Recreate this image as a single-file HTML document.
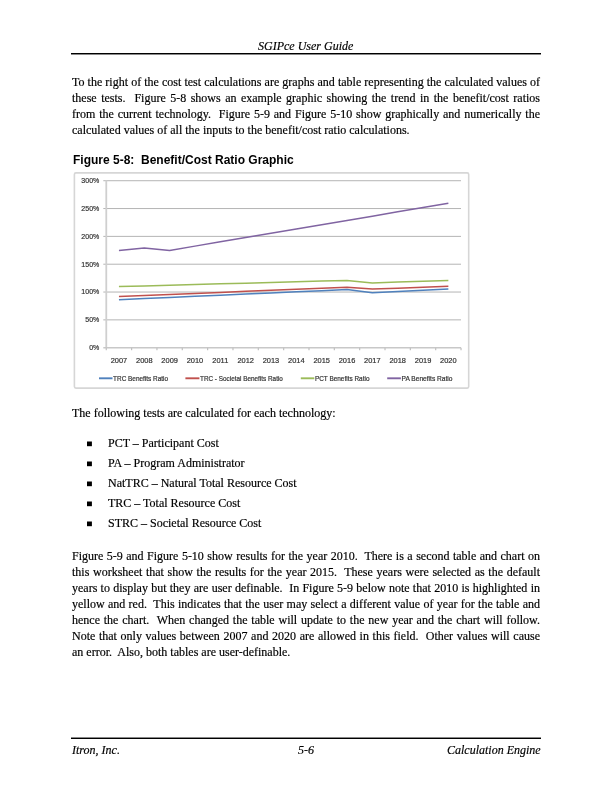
<!DOCTYPE html>
<html><head><meta charset="utf-8">
<style>
html,body{margin:0;padding:0;background:#fff;}
body{width:612px;height:792px;position:relative;overflow:hidden;font-family:"Liberation Serif",serif;color:#000;-webkit-text-stroke:0.18px #000;}
.a{position:absolute;white-space:pre;will-change:transform;}
.hr{position:absolute;left:70.5px;width:470.5px;height:1px;background:#000;}
.ln{position:absolute;will-change:transform;left:72px;width:468px;font-size:12px;line-height:16px;height:16px;white-space:nowrap;text-align:justify;text-align-last:justify;}
.ln.l{text-align:left;text-align-last:left;}
.it{font-style:italic;font-size:12px;line-height:16px;}
.bul{position:absolute;left:87.2px;width:4.3px;height:4.5px;background:#000;}
.bt{position:absolute;will-change:transform;left:108px;font-size:12px;line-height:16px;white-space:pre;}
</style></head><body>
<!-- header -->
<div class="a it" style="left:258px;top:37.7px;">SGIPce User Guide</div>
<div class="hr" style="top:53px;box-shadow:0 1px 0 #888;"></div>

<!-- paragraph 1 (baselines 86,102,118,134) -->
<div class="ln" style="top:74px;">To the right of the cost test calculations are graphs and table representing the calculated values of</div>
<div class="ln" style="top:90px;">these tests.&nbsp; Figure 5-8 shows an example graphic showing the trend in the benefit/cost ratios</div>
<div class="ln" style="top:106px;">from the current technology.&nbsp; Figure 5-9 and Figure 5-10 show graphically and numerically the</div>
<div class="ln l" style="top:122px;">calculated values of all the inputs to the benefit/cost ratio calculations.</div>

<!-- figure heading -->
<div class="a" style="left:72.5px;top:152px;font-family:'Liberation Sans',sans-serif;font-weight:bold;font-size:12px;line-height:16px;-webkit-text-stroke:0;">Figure 5-8:&nbsp; Benefit/Cost Ratio Graphic</div>

<!-- chart -->
<svg class="a" style="left:0;top:0;font-family:'Liberation Sans',sans-serif;" width="612" height="792" viewBox="0 0 612 792">
<style>.cl{fill:#333;stroke:#333;stroke-width:0.2px;}</style>
<rect x="74.4" y="172.9" width="394.3" height="215.2" rx="1.5" fill="#fff" stroke="#d6d6d6" stroke-width="1.6"/>
<line x1="103.3" y1="319.87" x2="461.0" y2="319.87" stroke="#b4b4b4" stroke-width="1.0"/>
<line x1="103.3" y1="292.04" x2="461.0" y2="292.04" stroke="#b4b4b4" stroke-width="1.0"/>
<line x1="103.3" y1="264.21" x2="461.0" y2="264.21" stroke="#b4b4b4" stroke-width="1.0"/>
<line x1="103.3" y1="236.38" x2="461.0" y2="236.38" stroke="#b4b4b4" stroke-width="1.0"/>
<line x1="103.3" y1="208.55" x2="461.0" y2="208.55" stroke="#b4b4b4" stroke-width="1.0"/>
<line x1="103.3" y1="180.72" x2="461.0" y2="180.72" stroke="#b4b4b4" stroke-width="1.0"/>
<line x1="106.27" y1="180.3" x2="106.27" y2="347.70" stroke="#cfcfcf" stroke-width="1.8"/>
<line x1="103.3" y1="347.70" x2="461.0" y2="347.70" stroke="#c8c8c8" stroke-width="1.6"/>
<line x1="106.27" y1="347.70" x2="106.27" y2="350.2" stroke="#c0c0c0" stroke-width="1.2"/>
<line x1="131.61" y1="347.70" x2="131.61" y2="350.2" stroke="#c0c0c0" stroke-width="1.2"/>
<line x1="156.95" y1="347.70" x2="156.95" y2="350.2" stroke="#c0c0c0" stroke-width="1.2"/>
<line x1="182.29" y1="347.70" x2="182.29" y2="350.2" stroke="#c0c0c0" stroke-width="1.2"/>
<line x1="207.63" y1="347.70" x2="207.63" y2="350.2" stroke="#c0c0c0" stroke-width="1.2"/>
<line x1="232.97" y1="347.70" x2="232.97" y2="350.2" stroke="#c0c0c0" stroke-width="1.2"/>
<line x1="258.31" y1="347.70" x2="258.31" y2="350.2" stroke="#c0c0c0" stroke-width="1.2"/>
<line x1="283.65" y1="347.70" x2="283.65" y2="350.2" stroke="#c0c0c0" stroke-width="1.2"/>
<line x1="308.99" y1="347.70" x2="308.99" y2="350.2" stroke="#c0c0c0" stroke-width="1.2"/>
<line x1="334.33" y1="347.70" x2="334.33" y2="350.2" stroke="#c0c0c0" stroke-width="1.2"/>
<line x1="359.67" y1="347.70" x2="359.67" y2="350.2" stroke="#c0c0c0" stroke-width="1.2"/>
<line x1="385.01" y1="347.70" x2="385.01" y2="350.2" stroke="#c0c0c0" stroke-width="1.2"/>
<line x1="410.35" y1="347.70" x2="410.35" y2="350.2" stroke="#c0c0c0" stroke-width="1.2"/>
<line x1="435.69" y1="347.70" x2="435.69" y2="350.2" stroke="#c0c0c0" stroke-width="1.2"/>
<line x1="461.03" y1="347.70" x2="461.03" y2="350.2" stroke="#c0c0c0" stroke-width="1.2"/>
<text transform="translate(99.3,350.00) scale(0.88,1)" text-anchor="end" font-size="8" class="cl">0%</text>
<text transform="translate(99.3,322.17) scale(0.88,1)" text-anchor="end" font-size="8" class="cl">50%</text>
<text transform="translate(99.3,294.34) scale(0.88,1)" text-anchor="end" font-size="8" class="cl">100%</text>
<text transform="translate(99.3,266.51) scale(0.88,1)" text-anchor="end" font-size="8" class="cl">150%</text>
<text transform="translate(99.3,238.68) scale(0.88,1)" text-anchor="end" font-size="8" class="cl">200%</text>
<text transform="translate(99.3,210.85) scale(0.88,1)" text-anchor="end" font-size="8" class="cl">250%</text>
<text transform="translate(99.3,183.02) scale(0.88,1)" text-anchor="end" font-size="8" class="cl">300%</text>
<text transform="translate(118.94,363.1) scale(0.93,1)" text-anchor="middle" font-size="8" class="cl">2007</text>
<text transform="translate(144.28,363.1) scale(0.93,1)" text-anchor="middle" font-size="8" class="cl">2008</text>
<text transform="translate(169.62,363.1) scale(0.93,1)" text-anchor="middle" font-size="8" class="cl">2009</text>
<text transform="translate(194.96,363.1) scale(0.93,1)" text-anchor="middle" font-size="8" class="cl">2010</text>
<text transform="translate(220.30,363.1) scale(0.93,1)" text-anchor="middle" font-size="8" class="cl">2011</text>
<text transform="translate(245.64,363.1) scale(0.93,1)" text-anchor="middle" font-size="8" class="cl">2012</text>
<text transform="translate(270.98,363.1) scale(0.93,1)" text-anchor="middle" font-size="8" class="cl">2013</text>
<text transform="translate(296.32,363.1) scale(0.93,1)" text-anchor="middle" font-size="8" class="cl">2014</text>
<text transform="translate(321.66,363.1) scale(0.93,1)" text-anchor="middle" font-size="8" class="cl">2015</text>
<text transform="translate(347.00,363.1) scale(0.93,1)" text-anchor="middle" font-size="8" class="cl">2016</text>
<text transform="translate(372.34,363.1) scale(0.93,1)" text-anchor="middle" font-size="8" class="cl">2017</text>
<text transform="translate(397.68,363.1) scale(0.93,1)" text-anchor="middle" font-size="8" class="cl">2018</text>
<text transform="translate(423.02,363.1) scale(0.93,1)" text-anchor="middle" font-size="8" class="cl">2019</text>
<text transform="translate(448.36,363.1) scale(0.93,1)" text-anchor="middle" font-size="8" class="cl">2020</text>
<polyline points="118.94,299.69 144.28,298.56 169.62,297.44 194.96,296.32 220.30,295.20 245.64,294.08 270.98,292.96 296.32,291.84 321.66,290.72 347.00,289.60 372.34,292.81 397.68,291.50 423.02,290.19 448.36,288.88" fill="none" stroke="#4f81bd" stroke-width="1.5" stroke-linejoin="round"/>
<polyline points="118.94,296.42 144.28,295.41 169.62,294.40 194.96,293.39 220.30,292.38 245.64,291.36 270.98,290.35 296.32,289.34 321.66,288.33 347.00,287.32 372.34,289.10 397.68,288.17 423.02,287.25 448.36,286.33" fill="none" stroke="#c0504d" stroke-width="1.5" stroke-linejoin="round"/>
<polyline points="118.94,286.60 144.28,285.91 169.62,285.22 194.96,284.53 220.30,283.84 245.64,283.16 270.98,282.47 296.32,281.78 321.66,281.09 347.00,280.40 372.34,282.89 397.68,282.06 423.02,281.23 448.36,280.40" fill="none" stroke="#9bbb59" stroke-width="1.5" stroke-linejoin="round"/>
<polyline points="118.94,250.41 144.28,248.02 169.62,250.41 194.96,246.13 220.30,241.84 245.64,237.56 270.98,233.28 296.32,228.99 321.66,224.71 347.00,220.43 372.34,216.14 397.68,211.86 423.02,207.58 448.36,203.29" fill="none" stroke="#8064a2" stroke-width="1.5" stroke-linejoin="round"/>
<line x1="99" y1="378.3" x2="112.5" y2="378.3" stroke="#4f81bd" stroke-width="1.9"/>
<text transform="translate(113.1,380.8) scale(0.945,1)" font-size="6.8" class="cl">TRC Benefits Ratio</text>
<line x1="185.4" y1="378.3" x2="199.4" y2="378.3" stroke="#c0504d" stroke-width="1.9"/>
<text transform="translate(200.0,380.8) scale(0.94,1)" font-size="6.8" class="cl">TRC - Societal Benefits Ratio</text>
<line x1="300.8" y1="378.3" x2="314.3" y2="378.3" stroke="#9bbb59" stroke-width="1.9"/>
<text transform="translate(314.90000000000003,380.8) scale(0.948,1)" font-size="6.8" class="cl">PCT Benefits Ratio</text>
<line x1="387.2" y1="378.3" x2="400.9" y2="378.3" stroke="#8064a2" stroke-width="1.9"/>
<text transform="translate(401.5,380.8) scale(0.975,1)" font-size="6.8" class="cl">PA Benefits Ratio</text>
</svg>

<!-- paragraph 2 -->
<div class="ln l" style="top:404.7px;">The following tests are calculated for each technology:</div>

<svg class="a" style="left:86px;top:440px" width="8" height="8"><rect x="1" y="1.5" width="4.9" height="4.7" fill="#000"/></svg><div class="bt" style="top:435px;">PCT – Participant Cost</div>
<svg class="a" style="left:86px;top:460px" width="8" height="8"><rect x="1" y="1.5" width="4.9" height="4.7" fill="#000"/></svg><div class="bt" style="top:455px;">PA – Program Administrator</div>
<svg class="a" style="left:86px;top:480px" width="8" height="8"><rect x="1" y="1.5" width="4.9" height="4.7" fill="#000"/></svg><div class="bt" style="top:475px;">NatTRC – Natural Total Resource Cost</div>
<svg class="a" style="left:86px;top:500px" width="8" height="8"><rect x="1" y="1.5" width="4.9" height="4.7" fill="#000"/></svg><div class="bt" style="top:495px;">TRC – Total Resource Cost</div>
<svg class="a" style="left:86px;top:520px" width="8" height="8"><rect x="1" y="1.5" width="4.9" height="4.7" fill="#000"/></svg><div class="bt" style="top:515px;">STRC – Societal Resource Cost</div>

<!-- paragraph 3 (baselines 560..656) -->
<div class="ln" style="top:548px;">Figure 5-9 and Figure 5-10 show results for the year 2010.&nbsp; There is a second table and chart on</div>
<div class="ln" style="top:564px;">this worksheet that show the results for the year 2015.&nbsp; These years were selected as the default</div>
<div class="ln" style="top:580px;">years to display but they are user definable.&nbsp; In Figure 5-9 below note that 2010 is highlighted in</div>
<div class="ln" style="top:596px;">yellow and red.&nbsp; This indicates that the user may select a different value of year for the table and</div>
<div class="ln" style="top:612px;">hence the chart.&nbsp; When changed the table will update to the new year and the chart will follow.</div>
<div class="ln" style="top:628px;">Note that only values between 2007 and 2020 are allowed in this field.&nbsp; Other values will cause</div>
<div class="ln l" style="top:644px;">an error.&nbsp; Also, both tables are user-definable.</div>

<!-- footer -->
<div class="hr" style="top:738px;box-shadow:0 -1px 0 #888;"></div>
<div class="a it" style="left:71.5px;top:742px;">Itron, Inc.</div>
<div class="a it" style="left:298px;top:742px;">5-6</div>
<div class="a it" style="left:446.5px;top:742px;">Calculation Engine</div>
</body></html>
